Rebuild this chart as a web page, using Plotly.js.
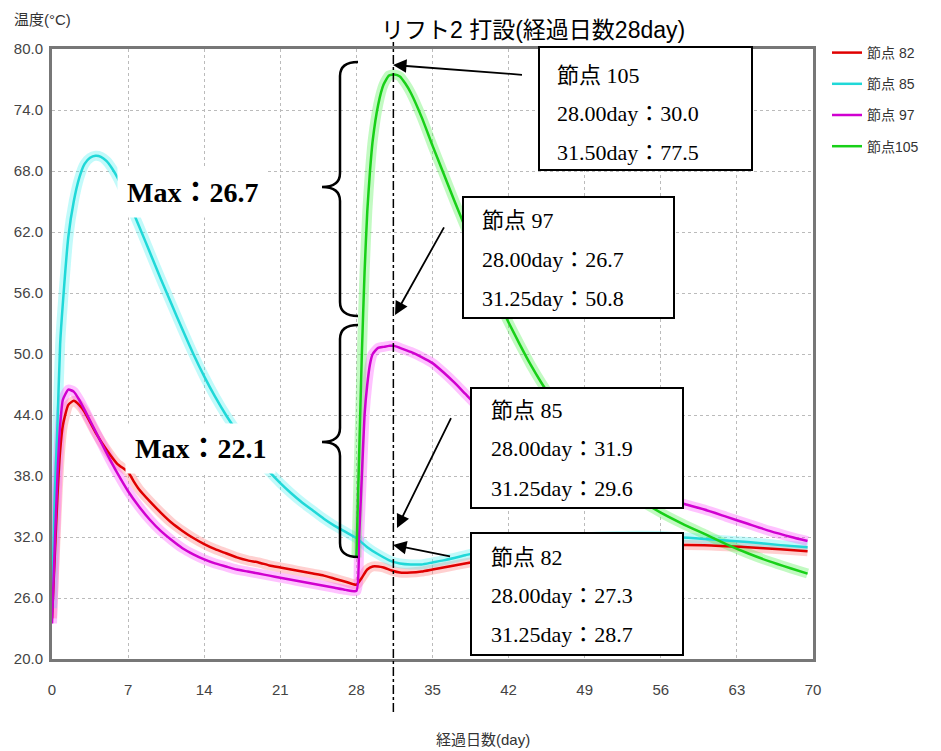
<!DOCTYPE html>
<html>
<head>
<meta charset="utf-8">
<script src="https://cdn.plot.ly/plotly-3.0.1.min.js"></script>
<style>html,body{margin:0;padding:0;background:#fff;}#chart{width:941px;height:751px;}</style>
</head>
<body>
<div id="chart"></div>
<script>
// ---- data ----
const seriesNames = ['節点 82', '節点 85', '節点 97', '節点105'];

const x82 = [0,0.25,0.5,0.75,1,1.5,2,2.5,3,4,5,6,7,7.5,8,9,10,11,12,13,14,15,16,17,18,19,20,21,22,23,24,25,26,27,28,28.5,29,29.5,30,30.5,31.25,32,33,34,35,36,38,40,42,45,48,52,56,60,64,67,69.5];
const y82 = [24,30,36,40.5,43,45,45.4,45.0,44.3,42.3,40.6,39.2,38.4,37.5,36.7,35.5,34.4,33.4,32.6,31.9,31.3,30.8,30.4,30.0,29.7,29.5,29.2,29.0,28.8,28.6,28.4,28.2,27.9,27.6,27.3,28.0,28.8,29.1,29.1,29.0,28.7,28.5,28.5,28.6,28.8,29.0,29.4,29.8,30.2,30.6,30.9,31.1,31.2,31.2,31.0,30.8,30.6];

const x85 = [0,0.25,0.5,0.75,1,1.5,2,2.5,3,3.5,4,4.5,5,5.5,6,6.5,7,8,9,10,11,12,13,14,15,16,17,18,19,20,21,22,23,24,25,26,27,28,29,30,31.25,32,33,34,35,36,38,40,42,45,48,52,56,60,64,67,69.5];
const y85 = [25,36,43,51,55,61.5,65,67.3,68.7,69.3,69.5,69.4,69.0,68.3,67.4,66.3,65.1,62.6,60.0,57.4,54.9,52.4,50.0,47.8,45.8,44.0,42.4,40.9,39.6,38.4,37.3,36.3,35.4,34.6,33.8,33.1,32.5,31.9,31.0,30.3,29.6,29.4,29.3,29.3,29.5,29.7,30.2,30.7,31.1,31.6,31.9,32.1,32.1,31.8,31.5,31.2,31.0];

const x97 = [0,0.25,0.5,0.75,1,1.5,2,2.5,3,4,5,6,7,8,9,10,11,12,13,14,15,16,17,18,19,20,21,22,23,24,25,26,27,28,28.25,28.5,28.75,29,29.25,29.5,30,30.5,31,31.25,31.5,32,33,34,35,36,37,38,39,40,42,44,46,48,50,52,54,56,58,60,62,64,66,68,69.5];
const y97 = [23.5,31,38,43,45.5,46.5,46.3,45.5,44.5,42.4,40.3,38.3,36.5,35.0,33.7,32.6,31.7,30.9,30.3,29.8,29.4,29.1,28.8,28.6,28.4,28.2,28.0,27.8,27.6,27.4,27.2,27.0,26.8,26.7,32,38,44,47,49,50,50.6,50.7,50.8,50.8,50.8,50.6,50.2,49.7,49.1,48.2,47.2,46.1,45.0,44.0,42.3,40.8,39.6,38.6,37.7,37.0,36.4,35.9,35.3,34.7,34.0,33.3,32.6,32.0,31.6];

const x105 = [28,28.25,28.5,28.75,29,29.25,29.5,30,30.5,31,31.5,32,32.5,33,34,35,36,37,38,39,40,41,42,43,44,45,46,47,48,49,50,52,54,56,58,60,62,64,66,68,69.5];
const y105 = [30.0,40,50,58,64,68,71,74.5,76.5,77.4,77.5,77.3,76.6,75.7,73.3,70.5,67.8,65.1,62.5,60.0,57.6,55.3,53.1,51.0,49.0,47.2,45.6,44.1,42.6,41.2,39.9,37.6,35.7,34.4,33.3,32.3,31.3,30.4,29.6,28.9,28.4];

const xTicks = [0,7,14,21,28,35,42,49,56,63,70];
const yTicks = [20,26,32,38,44,50,56,62,68,74,80];

const liftDay = 31.4;   // position of the dash-dot marker line
const titleText = 'リフト2 打設(経過日数28day)';
const boxTexts = [
  ['節点 105', '28.00day：30.0', '31.50day：77.5'],
  ['節点 97',  '28.00day：26.7', '31.25day：50.8'],
  ['節点 85',  '28.00day：31.9', '31.25day：29.6'],
  ['節点 82',  '28.00day：27.3', '31.25day：28.7']
];
const maxLabels = ['Max：26.7', 'Max：22.1'];

// ---- styling ----
const mainColors = ['#e00000', '#20d8d8', '#d000d0', '#18d018'];
const glowColors = ['rgba(255,120,120,0.35)', 'rgba(80,240,240,0.35)', 'rgba(255,80,255,0.35)', 'rgba(80,240,80,0.35)'];
const xs = [x82, x85, x97, x105];
const ys = [y82, y85, y97, y105];

// plot area in pixels
const L = 52, R = 813, T = 49, B = 659;
const PX = p => (p - L) / (R - L);
const PY = p => 1 - (p - T) / (B - T);

const traces = [];
for (let i = 0; i < 4; i++) {
  traces.push({
    x: xs[i], y: ys[i], type: 'scatter', mode: 'lines', showlegend: false, hoverinfo: 'skip',
    line: {color: glowColors[i], width: 10, shape: 'spline', smoothing: 0.5}
  });
}
for (let i = 0; i < 4; i++) {
  traces.push({
    x: xs[i], y: ys[i], type: 'scatter', mode: 'lines', name: seriesNames[i],
    legendgroup: 'g' + i,
    line: {color: mainColors[i], width: 2.5, shape: 'spline', smoothing: 0.5}
  });
}

const serif = 'Liberation Serif, Noto Sans CJK JP, serif';
const sans = 'Liberation Sans, Noto Sans CJK JP, sans-serif';

const shapes = [];
const annotations = [];

// dash-dot vertical line
shapes.push({type: 'line', xref: 'x', yref: 'paper', x0: liftDay, x1: liftDay, y0: PY(712), y1: PY(42),
  line: {color: '#000', width: 1.5, dash: 'dashdot'}, layer: 'above'});

// braces
function brace(ytop, ymid, ybot) {
  const xr = 358, xm = 340, xt = 322, d = 14;
  const p = (x, y) => PX(x) + ',' + PY(y);
  return 'M ' + p(xr, ytop) + ' Q ' + p(xm, ytop) + ' ' + p(xm, ytop + d) +
    ' L ' + p(xm, ymid - d) + ' Q ' + p(xm, ymid) + ' ' + p(xt, ymid) +
    ' Q ' + p(xm, ymid) + ' ' + p(xm, ymid + d) +
    ' L ' + p(xm, ybot - d) + ' Q ' + p(xm, ybot) + ' ' + p(xr, ybot);
}
shapes.push({type: 'path', xref: 'paper', yref: 'paper', path: brace(62, 187, 316), line: {color: '#000', width: 2.5}});
shapes.push({type: 'path', xref: 'paper', yref: 'paper', path: brace(325, 442, 557), line: {color: '#000', width: 2.5}});

// info boxes
const boxes = [
  {x0: 539, x1: 752, y0: 47, y1: 170, tx: 555, rows: [75, 113, 152]},
  {x0: 463, x1: 674, y0: 197, y1: 318, tx: 480, rows: [220, 259, 298]},
  {x0: 471, x1: 683, y0: 388, y1: 508, tx: 489, rows: [410, 449, 488]},
  {x0: 471, x1: 683, y0: 533, y1: 655, tx: 489, rows: [557, 595, 634]}
];
boxes.forEach((b, i) => {
  shapes.push({type: 'rect', xref: 'paper', yref: 'paper', x0: PX(b.x0), x1: PX(b.x1), y0: PY(b.y1), y1: PY(b.y0),
    fillcolor: '#fff', line: {color: '#000', width: 2}, layer: 'above'});
  b.rows.forEach((ry, k) => {
    annotations.push({xref: 'paper', yref: 'paper', x: PX(b.tx), y: PY(ry), xanchor: 'left', yanchor: 'middle',
      text: boxTexts[i][k], showarrow: false, font: {family: serif, size: 22, color: '#000'}});
  });
});

// arrows
const arrows = [
  {hx: 393, hy: 65, tx: 525, ty: 75},
  {hx: 395, hy: 315, tx: 447, ty: 222},
  {hx: 397, hy: 528, tx: 454, ty: 412},
  {hx: 393, hy: 545, tx: 453, ty: 557}
];
arrows.forEach(a => {
  annotations.push({xref: 'paper', yref: 'paper', x: PX(a.hx), y: PY(a.hy), ax: a.tx - a.hx, ay: a.ty - a.hy,
    text: ' ', showarrow: true, arrowhead: 2, arrowsize: 1.5, arrowwidth: 1.8, arrowcolor: '#000', standoff: 0});
});

// Max labels
annotations.push({xref: 'paper', yref: 'paper', x: PX(192), y: PY(193), xanchor: 'center', yanchor: 'middle',
  text: '<b>' + maxLabels[0] + '</b>', showarrow: false,
  bgcolor: '#fff', borderpad: 9, font: {family: serif, size: 28, color: '#000'}});
annotations.push({xref: 'paper', yref: 'paper', x: PX(200), y: PY(448), xanchor: 'center', yanchor: 'middle',
  text: '<b>' + maxLabels[1] + '</b>', showarrow: false,
  bgcolor: '#fff', borderpad: 9, font: {family: serif, size: 28, color: '#000'}});

// title, axis titles
annotations.push({xref: 'paper', yref: 'paper', x: PX(533), y: PY(30), text: titleText, showarrow: false,
  xanchor: 'center', yanchor: 'middle', font: {family: sans, size: 23, color: '#000'}});
annotations.push({xref: 'paper', yref: 'paper', x: PX(12), y: PY(20), text: '温度(°C)', showarrow: false,
  xanchor: 'left', yanchor: 'middle', font: {family: sans, size: 15, color: '#333'}});
annotations.push({xref: 'paper', yref: 'paper', x: PX(483), y: PY(740), text: '経過日数(day)', showarrow: false,
  xanchor: 'center', yanchor: 'middle', font: {family: sans, size: 15, color: '#333'}});

const layout = {
  width: 941, height: 751,
  margin: {l: L, r: 941 - R, t: T, b: 751 - B, pad: 0},
  paper_bgcolor: '#fff', plot_bgcolor: '#fff',
  showlegend: true,
  legend: {x: PX(827), y: PY(37), xanchor: 'left', yanchor: 'top', bgcolor: 'rgba(0,0,0,0)',
    font: {family: sans, size: 14, color: '#333'}, tracegroupgap: 10, traceorder: 'grouped'},
  xaxis: {range: [0, 70], tickvals: xTicks, ticktext: xTicks.map(String), showline: true, mirror: true,
    linecolor: '#777', linewidth: 3, showgrid: true, gridcolor: '#bbb', griddash: 'dot', gridwidth: 1,
    zeroline: false, ticks: '', ticklabelstandoff: 15, tickfont: {family: sans, size: 15, color: '#444'}},
  yaxis: {range: [20, 80], tickvals: yTicks, ticktext: yTicks.map(v => v.toFixed(1)), showline: true, mirror: true,
    linecolor: '#777', linewidth: 3, showgrid: true, gridcolor: '#bbb', griddash: 'dot', gridwidth: 1,
    zeroline: false, ticks: '', ticklabelstandoff: 3, tickfont: {family: sans, size: 15, color: '#444'}},
  shapes: shapes,
  annotations: annotations
};

Plotly.newPlot('chart', traces, layout, {displayModeBar: false, staticPlot: true});
</script>
</body>
</html>
